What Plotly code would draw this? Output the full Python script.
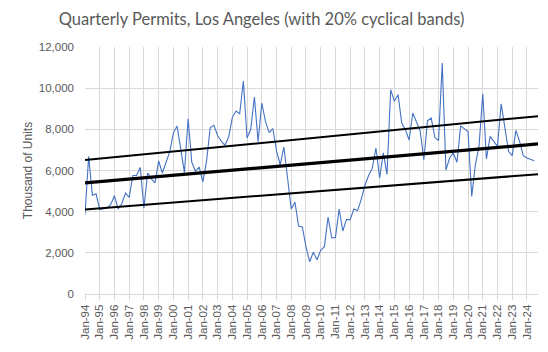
import plotly.graph_objects as go

years = [f"Jan-{y % 100:02d}" for y in range(1994, 2025)]

permits = [
    3850, 6690, 4800, 4870, 4100, 4130, 4180, 4350, 4770, 4130,
    4400, 4900, 4700, 5760, 5760, 6150, 4180, 5880, 5590, 5400,
    6460, 5880, 6365, 6900, 7830, 8160, 7050, 5900, 8510, 6400,
    5970, 6170, 5450, 6440, 8090, 8200, 7700, 7420, 7230, 7620,
    8570, 8890, 8760, 10350, 7580, 8000, 9570, 7400, 9280, 8390,
    7840, 8040, 6970, 6280, 7140, 5470, 4130, 4460, 3300, 3260,
    2300, 1570, 2030, 1667, 2119, 2300, 3741, 2721, 2750, 4130,
    3060, 3625, 3610, 4130, 4040, 4600, 5270, 5760, 6100, 7094,
    5636, 6860, 5810, 9927, 9360, 9684, 8309, 7983, 7480, 8795,
    8325, 7925, 6526, 8420, 8552, 7600, 7457, 11225, 6020, 6607,
    6851, 6400, 8170, 8030, 7890, 4743, 6283, 7206, 9730, 6560,
    7658, 7415, 7172, 9240, 8114, 6929, 6720, 7950, 7415, 6720,
    6607, 6526, 6477,
]

quarter_index = list(range(len(permits)))
n_categories = 124
trend_x = [0, n_categories - 1]
upper_band = [6510, 8640]
trend_mid = [5400, 7290]
lower_band = [4110, 5820]

grey = "#595959"
grid = "#d9d9d9"

fig = go.Figure()
fig.add_trace(go.Scatter(x=quarter_index, y=permits, mode="lines",
                         line=dict(color="#4472C4", width=1.1),
                         showlegend=False, hoverinfo="y"))
fig.add_trace(go.Scatter(x=trend_x, y=upper_band, mode="lines",
                         line=dict(color="black", width=2), showlegend=False))
fig.add_trace(go.Scatter(x=trend_x, y=trend_mid, mode="lines",
                         line=dict(color="black", width=3.2), showlegend=False))
fig.add_trace(go.Scatter(x=trend_x, y=lower_band, mode="lines",
                         line=dict(color="black", width=2), showlegend=False))

fig.update_layout(
    width=548, height=352,
    margin=dict(l=85, r=10.4, t=47.3, b=57.7),
    paper_bgcolor="white", plot_bgcolor="white",
    font=dict(family="Liberation Sans", color=grey, size=11.5),
    title=dict(text="Quarterly Permits, Los Angeles (with 20% cyclical bands)",
               x=261.5 / 548, xref="container", xanchor="center",
               y=1 - 19 / 352, yref="container", yanchor="middle",
               font=dict(family="Lato", size=16.5, color=grey)),
    xaxis=dict(range=[0, n_categories - 1],
               tickmode="array", tickvals=list(range(0, 4 * len(years), 4)),
               ticktext=years, tickangle=-90,
               showgrid=True, gridcolor=grid, gridwidth=1,
               showline=True, linecolor=grid, linewidth=1,
               ticks="outside", ticklen=5, tickcolor=grid,
               zeroline=False, tickfont=dict(size=11.5, color=grey)),
    yaxis=dict(range=[0, 12000], dtick=2000, tickformat=",",
               showgrid=True, gridcolor=grid, gridwidth=1,
               zeroline=False, showline=False, ticks="",
               ticklabelstandoff=10,
               title=dict(text="Thousand of Units", font=dict(size=12, color=grey),
                          standoff=3),
               tickfont=dict(size=11.5, color=grey)),
)

fig.write_html("out.html")
